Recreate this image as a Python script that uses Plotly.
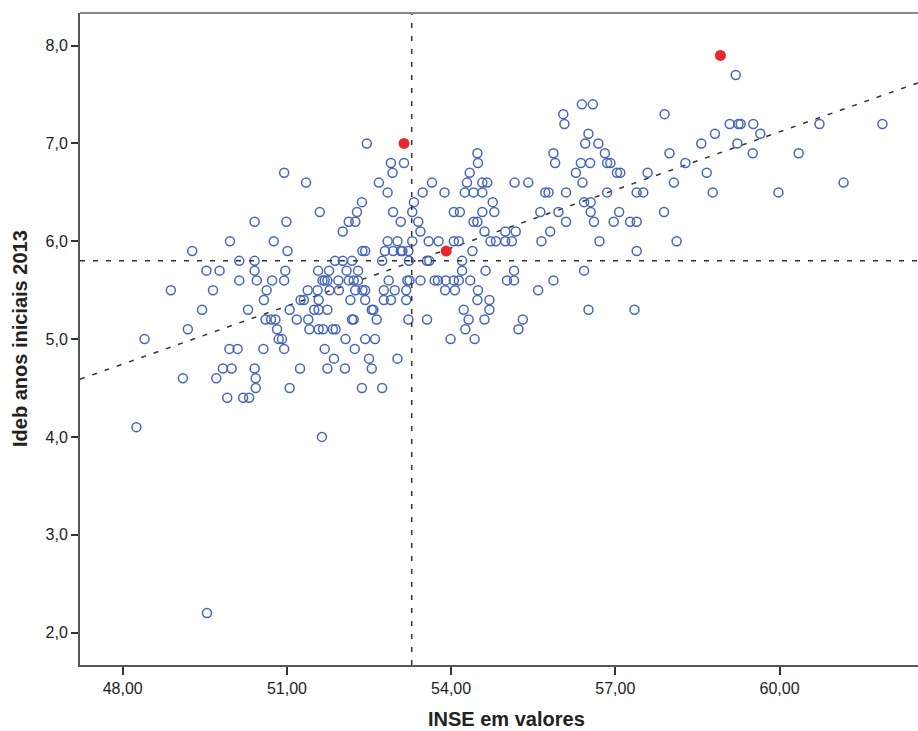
import plotly.graph_objects as go

# Ideb levels (y) and the INSE values (x) of the schools at each level
ideb_levels = [7.7, 7.4, 7.3, 7.2, 7.1, 7.0, 6.9, 6.8, 6.7, 6.6, 6.5, 6.4, 6.3, 6.2, 6.1,
               6.0, 5.9, 5.8, 5.7, 5.6, 5.5, 5.4, 5.3, 5.2, 5.1, 5.0, 4.9, 4.8, 4.7,
               4.6, 4.5, 4.4, 4.1, 4.0, 2.2]
inse_groups = [
    [59.20],
    [56.39, 56.59],
    [56.05, 57.90],
    [56.07, 59.09, 59.25, 59.29, 59.52, 60.73, 61.88],
    [56.51, 58.82, 59.65],
    [52.46, 56.45, 56.69, 58.57, 59.23],
    [54.48, 55.87, 56.81, 57.99, 59.51, 60.35],
    [52.90, 53.14, 54.49, 55.90, 56.37, 56.54, 56.85, 56.91, 58.28],
    [50.95, 52.93, 54.34, 56.28, 57.03, 57.09, 57.59, 58.67],
    [51.35, 52.68, 53.65, 54.29, 54.57, 54.66, 55.16, 55.41, 56.40, 58.07, 61.17],
    [52.84, 53.48, 53.88, 54.25, 54.41, 54.57, 55.72, 55.78, 56.10, 56.85, 57.39,
     57.51, 58.78, 59.98],
    [52.37, 53.32, 54.76, 56.43, 56.55],
    [51.60, 52.28, 52.94, 53.29, 54.05, 54.16, 54.57, 54.79, 55.63, 55.96, 56.55,
     57.07, 57.89],
    [50.41, 50.99, 52.13, 52.25, 53.08, 53.40, 54.41, 54.48, 56.10, 56.61, 56.97,
     57.27, 57.39],
    [52.02, 53.44, 54.61, 54.99, 55.18, 55.81],
    [49.96, 50.76, 52.84, 53.02, 53.29, 53.59, 53.77, 54.05, 54.14, 54.72, 54.82,
     54.99, 55.11, 55.65, 56.71, 58.12],
    [49.27, 51.01, 52.38, 52.43, 52.79, 52.94, 53.08, 53.11, 53.22, 54.39, 57.39],
    [50.13, 50.41, 51.88, 52.02, 52.19, 52.74, 53.23, 53.56, 53.60, 54.20],
    [49.53, 49.77, 50.41, 50.97, 51.57, 51.77, 52.09, 52.30, 54.20, 54.63, 55.15,
     56.43],
    [50.13, 50.45, 50.73, 50.95, 51.65, 51.69, 51.74, 51.94, 52.13, 52.22, 52.30,
     52.86, 53.20, 53.24, 53.44, 53.70, 53.76, 53.90, 54.05, 54.14, 54.35, 55.02,
     55.15, 55.87],
    [48.88, 49.65, 50.63, 51.38, 51.56, 51.78, 51.95, 52.25, 52.38, 52.43, 52.77,
     52.97, 53.18, 53.89, 54.07, 54.49, 55.59],
    [50.58, 51.25, 51.31, 51.58, 52.16, 52.43, 52.77, 52.90, 53.18, 54.48, 54.70],
    [49.45, 50.29, 51.05, 51.50, 51.58, 51.74, 52.55, 52.58, 54.23, 54.70, 56.51,
     57.35],
    [50.61, 50.71, 50.79, 51.18, 51.39, 52.19, 52.22, 52.64, 53.22, 53.56, 54.32,
     54.61, 55.31],
    [49.19, 50.82, 51.41, 51.58, 51.66, 51.84, 51.89, 54.26, 55.23],
    [48.40, 50.85, 50.91, 52.07, 52.43, 52.61, 53.99, 54.43],
    [49.95, 50.10, 50.57, 50.95, 51.69, 52.24],
    [51.86, 52.50, 53.02],
    [49.83, 49.99, 50.41, 51.24, 51.74, 52.06, 52.55],
    [49.10, 49.71, 50.43],
    [50.43, 51.05, 52.37, 52.74],
    [49.91, 50.20, 50.31],
    [48.25],
    [51.64],
    [49.54],
]

# highlighted schools (red)
red_inse = [53.14, 53.91, 58.92]
red_ideb = [7.0, 5.9, 7.9]

# reference lines
mean_inse = 53.28
mean_ideb = 5.80
fit_x = [47.22, 62.53]
fit_y = [4.59, 7.62]

x_ticks = [48, 51, 54, 57, 60]
x_tick_text = ["48,00", "51,00", "54,00", "57,00", "60,00"]
y_ticks = [2, 3, 4, 5, 6, 7, 8]
y_tick_text = ["2,0", "3,0", "4,0", "5,0", "6,0", "7,0", "8,0"]

x_range = [47.22, 62.53]
y_range = [1.668, 8.334]

inse = []
ideb = []
for lvl, grp in zip(ideb_levels, inse_groups):
    for v in grp:
        inse.append(v)
        ideb.append(lvl)

dash = "5px,8px"
line_col = "#333333"

fig = go.Figure()

fig.add_trace(go.Scatter(
    x=fit_x, y=fit_y, mode="lines",
    line=dict(color=line_col, width=1.5, dash=dash),
    hoverinfo="skip", showlegend=False,
))

fig.add_trace(go.Scatter(
    x=inse, y=ideb, mode="markers",
    marker=dict(symbol="circle-open", size=9, color="#4565BA",
                line=dict(width=1.5, color="#4565BA")),
    showlegend=False,
))

fig.add_trace(go.Scatter(
    x=red_inse, y=red_ideb, mode="markers",
    marker=dict(symbol="circle", size=11, color="#E8282E",
                line=dict(width=0)),
    showlegend=False,
))

fig.add_shape(type="line", xref="x", yref="y domain",
              x0=mean_inse, x1=mean_inse, y0=0, y1=1,
              line=dict(color=line_col, width=1.5, dash=dash))
fig.add_shape(type="line", xref="x domain", yref="y",
              x0=0, x1=1, y0=mean_ideb, y1=mean_ideb,
              line=dict(color=line_col, width=1.5, dash=dash))
# top frame line
fig.add_shape(type="line", xref="paper", yref="paper",
              x0=0, x1=1, y0=1, y1=1,
              line=dict(color="#8a8a8a", width=2))

tick_font = dict(family="Liberation Sans, Arial, sans-serif", size=16, color="#222222")

fig.update_xaxes(
    range=x_range, tickmode="array", tickvals=x_ticks, ticktext=x_tick_text,
    showgrid=False, zeroline=False, showline=True, linecolor="#555555", linewidth=2,
    ticks="outside", ticklen=8, tickwidth=2, tickcolor="#333333",
    tickfont=tick_font,
)
fig.update_yaxes(
    range=y_range, tickmode="array", tickvals=y_ticks, ticktext=y_tick_text,
    showgrid=False, zeroline=False, showline=True, linecolor="#555555", linewidth=2,
    ticks="outside", ticklen=7, tickwidth=2, tickcolor="#333333",
    tickfont=tick_font,
)

title_font = dict(family="Liberation Sans, Arial, sans-serif", size=20, color="#222222")
fig.add_annotation(text="<b>INSE em valores</b>", xref="paper", yref="paper",
                   x=0.509, y=0, yshift=-54, showarrow=False, font=title_font,
                   xanchor="center", yanchor="middle")
fig.add_annotation(text="<b>Ideb anos iniciais 2013</b>", xref="paper", yref="paper",
                   x=0, xshift=-60, y=0.5, showarrow=False, font=title_font,
                   textangle=-90, xanchor="center", yanchor="middle")

fig.update_layout(
    width=918, height=731,
    margin=dict(l=80, r=0, t=13, b=66),
    plot_bgcolor="white", paper_bgcolor="white",
)

fig.write_html(
    "out.html",
    config={"displayModeBar": False},
    post_script="document.body.style.margin='0';document.body.style.overflow='hidden';",
)
